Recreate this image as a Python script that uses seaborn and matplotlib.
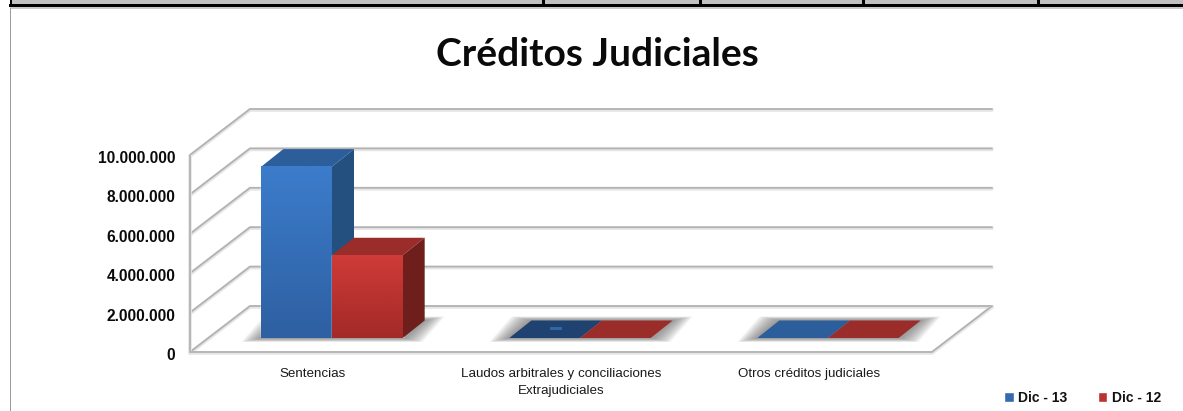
import numpy as np
import pandas as pd
import matplotlib
matplotlib.use("Agg")
import matplotlib.pyplot as plt
from matplotlib.patches import Polygon, Rectangle
from matplotlib.transforms import ScaledTranslation
from matplotlib.colors import LinearSegmentedColormap
import seaborn as sns

categories = ["Sentencias", "Laudos arbitrales y conciliaciones\nExtrajudiciales", "Otros créditos judiciales"]
series_names = ["Dic - 13", "Dic - 12"]
dic13 = [8700000, 0, 0]
dic12 = [4200000, 0, 0]
y_ticks = [0, 2000000, 4000000, 6000000, 8000000, 10000000]
y_labels = ["0", "2.000.000", "4.000.000", "6.000.000", "8.000.000", "10.000.000"]
title = "Créditos Judiciales"

W, H = 1183, 411
SANS = ["Liberation Sans", "DejaVu Sans"]

sns.set_theme(style="white")
plt.rcParams["font.family"] = SANS
fig = plt.figure(figsize=(W / 100, H / 100), dpi=100, facecolor="white")
# plane of the bar fronts: y 0 at px 338, 10M at px 141; x from px 190 to 932
ax = fig.add_axes([190 / W, 1 - 338 / H, 742 / W, 197 / H])
ax.patch.set_alpha(0)

df = pd.DataFrame({
    "cat": categories * 2,
    "serie": [series_names[0]] * 3 + [series_names[1]] * 3,
    "valor": dic13 + dic12,
})
front_mid = ["#3569b0", "#b93431"]
sns.barplot(data=df, x="cat", y="valor", hue="serie", hue_order=series_names, order=categories,
            palette=front_mid, saturation=1, width=0.57, gap=0, ax=ax, dodge=True, legend=True)

UX = 248.0
xlim = (-(332 - 190) / UX, (932 - 332) / UX)
ax.set_xlim(*xlim)
ax.set_ylim(0, 1e7)
PX = 1 / UX
PY = 1e7 / 197
x0 = xlim[0]

# walls and gridlines
def wall(xs, ys):
    for lw, col, dy in [(2.6, "#e6e6e6", -1.0), (1.3, "#b2b2b2", 0)]:
        ax.plot(xs, np.array(ys) + dy * PY, color=col, lw=lw, clip_on=False, zorder=1,
                solid_capstyle="round", solid_joinstyle="round")

for v in y_ticks:
    wall([x0, x0 + 60 * PX, x0 + 802 * PX], [v - 14 * PY, v + 32 * PY, v + 32 * PY])
wall([x0, x0], [-14 * PY, 1e7 - 14 * PY])
wall([x0, x0 + 742 * PX, x0 + 802 * PX], [-14 * PY, -14 * PY, 32 * PY])

# 3D faces derived from the seaborn bars
DX, DY = 22 * PX, 17.5 * PY
faces = [
    dict(top=["#2b5e9b", "#1f4270", "#2b5e9b"], side="#24507f", cmap=("#3c7ccb", "#2e60a2")),
    dict(top=["#9a2d29", "#9a2d29", "#9a2d29"], side="#6e1f1c", cmap=("#cf3b38", "#a32a28")),
]
z = 3.0
groups = list(zip(*[list(c) for c in ax.containers]))
for gi, group in enumerate(groups):
    gx0 = group[0].get_x()
    gx1 = group[-1].get_x() + group[-1].get_width()
    # soft floor shadow
    for k in np.arange(20, 0, -1.0):
        ex, ey = k * PX, (k * 0.2) * PY
        ax.add_patch(Polygon([(gx0 - ex, -ey), (gx1 + ex, -ey),
                              (gx1 + DX + ex, DY + ey), (gx0 + DX - ex, DY + ey)],
                             closed=True, fc="#707070", ec="none", alpha=0.05, zorder=2, clip_on=False))
    for si, p in enumerate(group):
        x, w, h = p.get_x(), p.get_width(), p.get_height()
        f = faces[si]
        p.set_zorder(z)
        ax.add_patch(Polygon([(x, h), (x + w, h), (x + w + DX, h + DY), (x + DX, h + DY)],
                             closed=True, fc=f["top"][gi], ec="none", zorder=z + 0.1, clip_on=False))
        if h > 0:
            ax.add_patch(Polygon([(x + w, 0), (x + w + DX, DY), (x + w + DX, h + DY), (x + w, h)],
                                 closed=True, fc=f["side"], ec="none", zorder=z + 0.1, clip_on=False))
            cm = LinearSegmentedColormap.from_list("g", f["cmap"])
            ax.imshow(np.linspace(0, 1, 64)[:, None], extent=(x, x + w, 0, h), origin="upper",
                      cmap=cm, aspect="auto", zorder=z + 0.2, interpolation="bilinear")
        z += 1
    ax.set_xlim(*xlim)
    ax.set_ylim(0, 1e7)

# small dash on the second group's dark tile
p = groups[1][0]
cx = p.get_x() + p.get_width() / 2 + DX / 2
ax.add_patch(Rectangle((cx - 6 * PX, 8 * PY), 12 * PX, 3 * PY, fc="#2f66a6", ec="none", zorder=z))

# axis text
sns.despine(ax=ax, left=True, bottom=True, top=True, right=True)
ax.set_xlabel("")
ax.set_ylabel("")
ax.grid(False)
ax.set_yticks(y_ticks, y_labels)
ax.tick_params(axis="y", length=0, pad=10.5, labelsize=11.2, labelcolor="#0a0a0a")
for lab in ax.get_yticklabels():
    lab.set_fontweight("bold")
    lab.set_transform(lab.get_transform() + ScaledTranslation(0, -16 / 100, fig.dpi_scale_trans))
ax.tick_params(axis="x", length=0, pad=21.5, labelsize=9.6, labelcolor="#1a1a1a")
for lab in ax.get_xticklabels():
    lab.set_transform(lab.get_transform() + ScaledTranslation(-19 / 100, 0, fig.dpi_scale_trans))
    lab.set_linespacing(1.6)

# legend
handles, labels = ax.get_legend_handles_labels()
leg = ax.legend(handles, labels, ncol=2, frameon=False, loc="center left",
                bbox_to_anchor=(1004 / W, 1 - 398 / H), bbox_transform=fig.transFigure,
                prop={"family": SANS, "weight": "bold", "size": 10},
                labelcolor="#111111", handlelength=0.7, handleheight=0.7, handletextpad=0.3,
                columnspacing=2.2, borderpad=0, borderaxespad=0)

# title
fig.text(597.5 / W, 1 - 55 / H, title, ha="center", va="center", fontsize=28, fontweight="bold",
         family=["Lato", "Open Sans", "DejaVu Sans"], color="#0a0a0a")

# clipped table strip and frame at the top of the picture
def rect(x, y, w, h, c):
    fig.add_artist(Rectangle((x / W, 1 - (y + h) / H), w / W, h / H, transform=fig.transFigure,
                             fc=c, ec="none"))

rect(10, 0, W - 10, 4.5, "#c0c0c0")
rect(9, 4.5, W - 9, 2.5, "#000000")
for vx in [9.5, 542, 699, 862, 1037]:
    rect(vx, 0, 2.5, 5, "#000000")
rect(10, 7.5, W - 10, 1.5, "#c8c8c8")
rect(9.5, 8, 1.5, H - 8, "#9c9c9c")

fig.savefig("out.png", dpi=100, facecolor="white")
